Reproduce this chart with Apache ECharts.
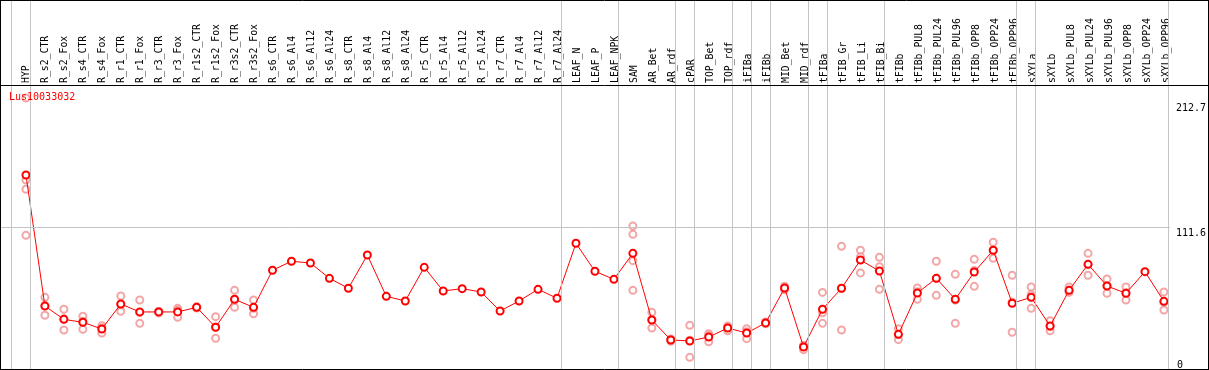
<!DOCTYPE html>
<html>
<head>
<meta charset="utf-8">
<script src="https://cdn.jsdelivr.net/npm/echarts@6/dist/echarts.min.js"></script>
<style>
html,body{margin:0;padding:0;background:#fff;}
#chart{width:1209px;height:370px;}
</style>
</head>
<body>
<div id="chart"></div>
<script>
var geneName = 'Lus10033032';

var categories = ['HYP','R_s2_CTR','R_s2_Fox','R_s4_CTR','R_s4_Fox','R_r1_CTR','R_r1_Fox','R_r3_CTR','R_r3_Fox',
  'R_r1s2_CTR','R_r1s2_Fox','R_r3s2_CTR','R_r3s2_Fox','R_s6_CTR','R_s6_Al4','R_s6_Al12','R_s6_Al24',
  'R_s8_CTR','R_s8_Al4','R_s8_Al12','R_s8_Al24','R_r5_CTR','R_r5_Al4','R_r5_Al12','R_r5_Al24',
  'R_r7_CTR','R_r7_Al4','R_r7_Al12','R_r7_Al24','LEAF_N','LEAF_P','LEAF_NPK','SAM','AR_Bet','AR_rdf',
  'cPAR','TOP_Bet','TOP_rdf','iFIBa','iFIBb','MID_Bet','MID_rdf','tFIBa','tFIB_Gr','tFIB_Li','tFIB_Bi',
  'tFIBb','tFIBb_PUL8','tFIBb_PUL24','tFIBb_PUL96','tFIBb_OPP8','tFIBb_OPP24','tFIBb_OPP96',
  'sXYLa','sXYLb','sXYLb_PUL8','sXYLb_PUL24','sXYLb_PUL96','sXYLb_OPP8','sXYLb_OPP24','sXYLb_OPP96'];

var means = [152.5,50.0,39.6,37.3,32.1,51.6,45.4,45.4,45.4,49.0,33.4,55.3,49.0,78.0,85.0,83.7,71.7,
  63.9,89.9,57.6,54.0,80.3,61.8,63.6,61.0,46.1,54.0,63.1,56.1,99.1,77.2,70.9,91.2,39.1,23.5,
  22.7,25.8,32.8,28.9,36.8,64.1,18.0,47.5,63.9,86.0,77.4,27.9,60.2,71.7,55.3,76.6,93.6,52.2,
  56.8,34.4,62.3,82.6,65.7,60.0,76.9,53.7];

var replicates = [
  [212.7,148.6,141.3,105.3],
  [56.8,42.8,50.4],[47.5,31.3,40.0],[42.0,31.8,38.1],[34.7,28.9,32.7],
  [57.9,45.9,51.0],[54.7,36.5,45.0],[45.8,44.6,45.8],[48.2,41.2,46.8],
  [49.5,48.5,49.0],[41.7,24.8,33.7],[62.3,49.0,54.6],[54.7,44.0,48.3],
  [],[],[],[],[],[],[],[],[],[],[],[],[],[],[],[],
  [],[],[],
  [112.6,106.1,85.5,62.3],[45.1,32.8,39.4],[24.3,22.4,23.8],
  [34.9,9.9,23.3],[28.4,22.1,26.9],[34.4,30.7,33.3],[32.3,24.5,29.9],[37.5,36.1,36.8],
  [65.5,62.7,64.1],[15.9,19.0,19.1],[60.7,44.8,36.5],[96.7,31.3,63.7],[93.6,88.5,75.9],[88.1,80.8,63.1],
  [32.3,23.7,27.7],[64.1,55.3,61.2],[85.0,58.4,71.7],[74.8,36.5,54.6],[86.6,65.4,77.8],[99.9,87.3,93.6],[74.1,29.5,53.0],
  [64.9,48.2,58.9],[38.6,30.7,34.0],[64.9,60.7,62.3],[91.2,74.1,82.5],[71.2,60.0,65.9],[64.9,54.7,60.4],[],[61.0,46.9,53.2]
];

// group boundaries: vertical separators placed after these category indexes
var groupEnds = [-1,0,28,31,34,35,37,38,39,41,42,45,52,53,60];

var yTickLabels = [111.6, 212.7];
var yZeroLabel = [0];

var meanData = means.map(function(v,i){return [i,v];});
var repData = [];
replicates.forEach(function(arr,i){arr.forEach(function(v){repData.push([i,v]);});});

var SEP_OFFSET = 0.232;
var vLines = groupEnds.map(function(g){return {xAxis: g + SEP_OFFSET};});

var mono = 'DejaVu Sans Mono';
var chart = echarts.init(document.getElementById('chart'), null, {renderer:'canvas'});
chart.setOption({
  animation:false,
  backgroundColor:'#fff',
  title:{text:geneName,left:9,top:92,padding:0,
    textStyle:{color:'#ff0000',fontSize:10,fontWeight:'normal',fontFamily:mono}},
  grid:[
    {left:1,right:37,top:0,bottom:0},
    {left:16.5,right:33.5,top:85,height:10}
  ],
  xAxis:[
    {type:'value',gridIndex:0,min:-25/19,max:(1172-26)/19,show:false},
    {type:'category',gridIndex:1,position:'top',data:categories,boundaryGap:true,
      axisLine:{show:false},axisTick:{show:false},splitLine:{show:false},
      axisLabel:{interval:0,rotate:90,margin:2,color:'#000',fontSize:9.8,fontFamily:mono}}
  ],
  yAxis:[
    {type:'value',gridIndex:0,position:'right',min:0,max:370*212.7/272,
      axisLine:{show:false},axisTick:{show:false},splitLine:{show:false},
      axisLabel:{customValues:yTickLabels,verticalAlign:'top',align:'left',margin:6,
        color:'#000',fontSize:10,fontFamily:mono,
        formatter:function(v){return v > 200 ? '{t|' + v + '}' : '{m|' + v + '}';},
        rich:{t:{padding:[5,0,0,0],fontSize:10,fontFamily:mono,color:'#000'},
              m:{padding:[1,0,0,0],fontSize:10,fontFamily:mono,color:'#000'}}}},
    {type:'value',gridIndex:0,position:'right',min:0,max:370*212.7/272,
      axisLine:{show:false},axisTick:{show:false},splitLine:{show:false},
      axisLabel:{customValues:yZeroLabel,verticalAlign:'bottom',align:'left',margin:7,
        color:'#000',fontSize:10,fontFamily:mono,formatter:function(v){return String(v);}}},
    {type:'value',gridIndex:1,show:false}
  ],
  series:[
    {type:'scatter',xAxisIndex:0,yAxisIndex:0,data:repData,symbol:'emptyCircle',symbolSize:7,
      itemStyle:{color:'#f09090',borderColor:'#f09090',borderWidth:1},z:2,silent:true,
      markLine:{silent:true,symbol:['none','none'],label:{show:false},
        lineStyle:{color:'#c4c4c4',type:'solid',width:1},
        data:vLines.concat([{yAxis:111.6}])}},
    {type:'line',xAxisIndex:0,yAxisIndex:0,data:meanData,symbol:'emptyCircle',symbolSize:7,
      lineStyle:{color:'#ff0000',width:1},itemStyle:{color:'#ff0000',borderColor:'#ff0000',borderWidth:1.4},z:3,silent:true}
  ],
  graphic:[
    {type:'line',shape:{x1:0,y1:0.5,x2:1209,y2:0.5},style:{stroke:'#000',lineWidth:1},z:100},
    {type:'line',shape:{x1:0,y1:85.5,x2:1209,y2:85.5},style:{stroke:'#000',lineWidth:1},z:100},
    {type:'line',shape:{x1:0,y1:369.5,x2:1209,y2:369.5},style:{stroke:'#000',lineWidth:1},z:100},
    {type:'line',shape:{x1:0.5,y1:0,x2:0.5,y2:370},style:{stroke:'#000',lineWidth:1},z:100},
    {type:'line',shape:{x1:1208.5,y1:0,x2:1208.5,y2:370},style:{stroke:'#000',lineWidth:1},z:100}
  ]
});
</script>
</body>
</html>
